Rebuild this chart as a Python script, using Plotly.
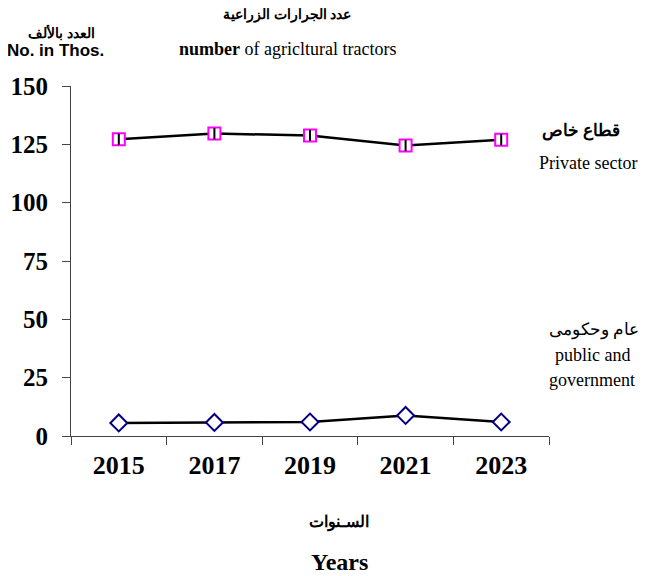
import plotly.graph_objects as go

years = ["2015", "2017", "2019", "2021", "2023"]
private_sector = [127.2, 129.6, 128.8, 124.5, 127.0]
public_gov = [5.6, 5.8, 6.0, 8.8, 6.0]
y_ticks = [0, 25, 50, 75, 100, 125, 150]

# page body has an 8px margin; size the figure so it fills the window exactly
O = 8
W, H = 647 - O, 576 - O
L, R, T, B = 71 - O, 98, 86 - O, 140

def px(x):
    return (x - O - L) / (W - L - R)

def py(y):
    return (H - B - (y - O)) / (H - T - B)

SERIF = "Liberation Serif, Times New Roman, DejaVu Serif, serif"

fig = go.Figure()
fig.add_trace(go.Scatter(
    x=years, y=private_sector, mode="lines+markers",
    line=dict(color="black", width=2.5),
    marker=dict(symbol="square", size=12, color="white",
                line=dict(color="#FF00FF", width=2)),
    showlegend=False, hoverinfo="x+y"))
fig.add_trace(go.Scatter(
    x=years, y=private_sector, mode="markers",
    marker=dict(symbol="line-ns", size=8, color="black",
                line=dict(color="black", width=2)),
    showlegend=False, hoverinfo="skip"))
fig.add_trace(go.Scatter(
    x=years, y=public_gov, mode="lines+markers",
    line=dict(color="black", width=2.5),
    marker=dict(symbol="diamond", size=13, color="white",
                line=dict(color="#000080", width=2)),
    showlegend=False, hoverinfo="x+y"))

fig.update_xaxes(
    type="category", range=[-0.5, len(years) - 0.5], tickson="boundaries",
    showline=True, linecolor="#444",
    linewidth=1, ticks="outside", ticklen=8, tickcolor="#444",
    showgrid=False, zeroline=False, ticklabelstandoff=6, automargin=False,
    tickfont=dict(family=SERIF, size=26, color="black", weight="bold"))
fig.update_yaxes(
    range=[0, 150], tickvals=y_ticks, showline=True, linecolor="#444",
    linewidth=1, ticks="outside", ticklen=8, tickcolor="#444",
    showgrid=False, zeroline=False, ticklabelstandoff=9, automargin=False,
    tickfont=dict(family=SERIF, size=25, color="black", weight="bold"))

ann = [
    ("عدد الجرارات الزراعية", 287, 15, 14, SERIF, True),
    ("<b>number</b> of agricltural tractors", 287, 49, 18, SERIF, False),
    ("العدد بالألف", 61, 33, 14, SERIF, True),
    ("No. in Thos.", 55, 51, 17, "Liberation Sans, Arial, sans-serif", True),
    ("قطاع خاص", 581, 131, 17, SERIF, True),
    ("Private sector", 588, 163, 18, SERIF, False),
    ("عام وحكومى", 594, 330, 17, SERIF, False),
    ("public and", 592, 355, 18, SERIF, False),
    ("government", 592, 380, 18, SERIF, False),
    ("السـنوات", 339, 522, 16, SERIF, True),
    ("Years", 339, 562, 24, SERIF, True),
]
for text, x, y, size, fam, bold in ann:
    fig.add_annotation(
        text=text, x=px(x), y=py(y), xref="paper", yref="paper",
        xanchor="center", yanchor="middle", showarrow=False,
        font=dict(family=fam, size=size, color="black",
                  weight="bold" if bold else "normal"))

fig.update_layout(
    width=W, height=H, margin=dict(l=L, r=R, t=T, b=B, autoexpand=False),
    paper_bgcolor="white", plot_bgcolor="white")

fig.write_html("out.html")
